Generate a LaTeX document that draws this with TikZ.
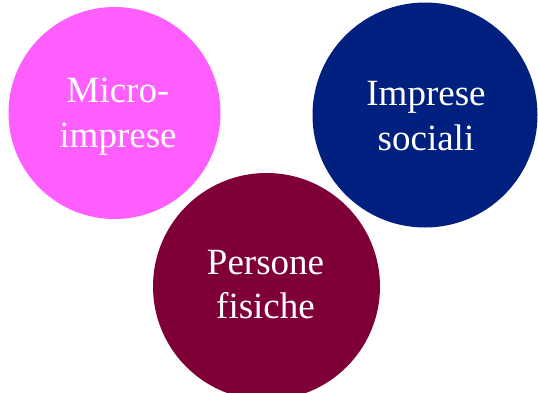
\documentclass[tikz,border=0pt]{standalone}
\usepackage{fontspec}
\setmainfont{Liberation Serif}
\usepackage{tikz}
\definecolor{micropink}{HTML}{FF5EFF}
\definecolor{socialblue}{HTML}{00207F}
\definecolor{personred}{HTML}{7F0037}
\tikzset{
  every picture/.style={line join=round, line cap=round},
  bubble/.style={circle, inner sep=0pt},
  bubbletext/.style={inner sep=0pt, text=white, align=center,
    font=\fontsize{37}{44.5}\selectfont},
}

\begin{document}
\begin{tikzpicture}[x=1pt,y=1pt]
\useasboundingbox (0,0) rectangle (538,-392);
\node[bubble,fill=micropink,minimum size=212pt] (micro) at (114.5,-113) {};
\node[bubble,fill=socialblue,minimum size=225pt] (sociali) at (425,-115) {};
\node[bubble,fill=personred,minimum size=227pt] (persone) at (266.5,-286.5) {};
\node[bubbletext] (microtext) at ([shift={(3.5,-3.6)}]micro.center) {Micro-\\imprese};
\node[bubbletext] (socialitext) at ([shift={(1,-1.3)}]sociali.center) {Imprese\\sociali};
\node[bubbletext] (personetext) at ([shift={(-1,2)}]persone.center) {Persone\\fisiche};
\end{tikzpicture}
\end{document}
